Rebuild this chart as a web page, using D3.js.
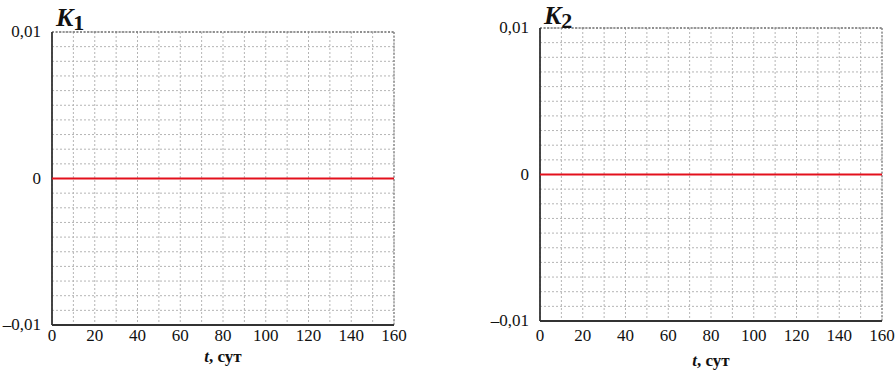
<!DOCTYPE html>
<html>
<head>
<meta charset="utf-8">
<script src="https://cdn.jsdelivr.net/npm/d3@7"></script>
<style>
  body { margin: 0; background: #fff; }
  svg { display: block; }
</style>
</head>
<body>
<svg width="895" height="370"></svg>
<script>
// data: both coefficients stay at zero for the whole period
var tDays = [0, 20, 40, 60, 80, 100, 120, 140, 160];
var k1Values = [0, 0, 0, 0, 0, 0, 0, 0, 0];
var k2Values = [0, 0, 0, 0, 0, 0, 0, 0, 0];

// tick labels
var xTicks = [0, 20, 40, 60, 80, 100, 120, 140, 160];
var yTicks = [-0.01, 0, 0.01];
var yTickLabels = ["\u20130,01", "0", "0,01"];

const serif = "Liberation Serif";
const svg = d3.select("svg");

// panel layout (pixels)
var panels = [
  { name: "1", values: k1Values, left: 52, right: 394, top: 32, bottom: 325, xLabelY: 341, titleY: 26, axisTitleY: 362 },
  { name: "2", values: k2Values, left: 540, right: 882, top: 28, bottom: 321, xLabelY: 341, titleY: 24, axisTitleY: 366 },
];

panels.forEach(function (p) {
  var x = d3.scaleLinear().domain([0, 160]).range([p.left, p.right]);
  var y = d3.scaleLinear().domain([-0.01, 0.01]).range([p.bottom, p.top]);
  var g = svg.append("g");

  // dotted grid
  g.append("g")
    .selectAll("line")
    .data(d3.range(0, 161, 10))
    .enter()
    .append("line")
    .attr("x1", (d) => x(d))
    .attr("x2", (d) => x(d))
    .attr("y1", p.top)
    .attr("y2", p.bottom)
    .attr("stroke", "#b5b5b5")
    .attr("stroke-width", 1)
    .attr("stroke-dasharray", "2,2");
  g.append("g")
    .selectAll("line")
    .data(d3.range(-10, 11).map((i) => i / 1000))
    .enter()
    .append("line")
    .attr("x1", p.left)
    .attr("x2", p.right)
    .attr("y1", (d) => y(d))
    .attr("y2", (d) => y(d))
    .attr("stroke", "#b5b5b5")
    .attr("stroke-width", 1)
    .attr("stroke-dasharray", "2,2");

  // frame: solid left and bottom, dotted top and right
  g.append("line")
    .attr("x1", p.right).attr("x2", p.right)
    .attr("y1", p.top).attr("y2", p.bottom)
    .attr("stroke", "#888").attr("stroke-width", 1.3)
    .attr("stroke-dasharray", "2,1.5");
  g.append("line")
    .attr("x1", p.left).attr("x2", p.right)
    .attr("y1", p.top).attr("y2", p.top)
    .attr("stroke", "#777").attr("stroke-width", 1.3)
    .attr("stroke-dasharray", "2,1.5");
  g.append("line")
    .attr("x1", p.left).attr("x2", p.right)
    .attr("y1", p.bottom).attr("y2", p.bottom)
    .attr("stroke", "#333").attr("stroke-width", 1.8);
  g.append("line")
    .attr("x1", p.left).attr("x2", p.left)
    .attr("y1", p.top).attr("y2", p.bottom)
    .attr("stroke", "#333").attr("stroke-width", 1.8);

  // series line
  var line = d3.line()
    .x((d, i) => x(tDays[i]))
    .y((d) => y(d));
  g.append("path")
    .datum(p.values)
    .attr("d", line)
    .attr("fill", "none")
    .attr("stroke", "#e3101c")
    .attr("stroke-width", 2);

  // x tick labels
  g.append("g")
    .selectAll("text")
    .data(xTicks)
    .enter()
    .append("text")
    .attr("x", (d) => x(d))
    .attr("y", p.xLabelY)
    .attr("text-anchor", "middle")
    .attr("font-family", serif)
    .attr("font-size", 17)
    .attr("fill", "#111")
    .text((d) => d);

  // y tick labels
  g.append("g")
    .selectAll("text")
    .data(yTicks)
    .enter()
    .append("text")
    .attr("x", p.left - 11)
    .attr("y", (d) => y(d) + 5)
    .attr("text-anchor", "end")
    .attr("font-family", serif)
    .attr("font-size", 17)
    .attr("fill", "#111")
    .text((d, i) => yTickLabels[i]);

  // panel title K with subscript
  var title = g.append("text")
    .attr("x", p.left + 4)
    .attr("y", p.titleY)
    .attr("font-family", serif)
    .attr("font-size", 26)
    .attr("font-weight", "bold")
    .attr("fill", "#111");
  title.append("tspan").attr("font-style", "italic").text("K");
  title.append("tspan").attr("dy", 4).attr("font-size", 22).text(p.name);

  // axis title
  var xt = g.append("text")
    .attr("x", (p.left + p.right) / 2)
    .attr("y", p.axisTitleY)
    .attr("text-anchor", "middle")
    .attr("font-family", serif)
    .attr("font-size", 17)
    .attr("font-weight", "bold")
    .attr("fill", "#111");
  xt.append("tspan").attr("font-style", "italic").text("t");
  xt.append("tspan").text(", сут");
});
</script>
</body>
</html>
